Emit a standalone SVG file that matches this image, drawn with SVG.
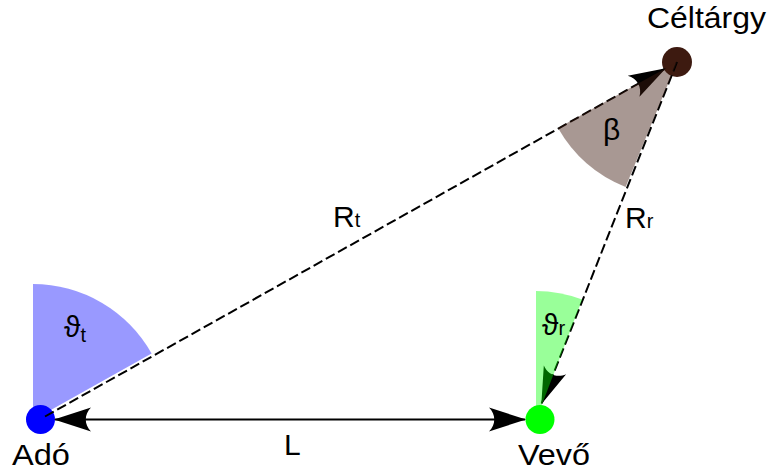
<svg xmlns="http://www.w3.org/2000/svg" width="769" height="472" viewBox="0 0 769 472">
<defs>
<style>
text{font-family:"Liberation Sans","DejaVu Sans",sans-serif;font-size:30px;fill:#000}
.sub{font-size:20px}
.conn{stroke:#000;stroke-width:2;fill:none}
.dash{stroke-dasharray:10 4}
</style>
<marker id="arr" viewBox="-40 -15 42 30" refX="0" refY="0" markerWidth="42" markerHeight="30" markerUnits="userSpaceOnUse" orient="auto-start-reverse">
<path d="M1,0 L-36,-12 C-29,-5 -29,5 -36,12 Z" fill="#000"/>
</marker>
</defs>
<rect width="769" height="472" fill="#fff"/>
<g id="node-ado"><circle cx="40.5" cy="419.5" r="14.5" fill="#0000ff"/><text x="12" y="465" textLength="58" lengthAdjust="spacingAndGlyphs">Adó</text></g>
<g id="node-vevo"><circle cx="540" cy="419.5" r="14.5" fill="#00ff00"/><text x="518" y="465" textLength="72" lengthAdjust="spacingAndGlyphs">Vevő</text></g>
<g id="node-celtargy"><circle cx="677" cy="62" r="15" fill="#3d1a10"/><text x="647" y="28" textLength="119" lengthAdjust="spacingAndGlyphs">Céltárgy</text></g>
<g id="connectors">
<line class="conn dash" x1="45" y1="416.5" x2="665" y2="68.7" marker-end="url(#arr)"/>
<line class="conn dash" x1="677" y1="62" x2="541.7" y2="403.3" marker-end="url(#arr)"/>
<line class="conn" x1="55" y1="419.5" x2="525" y2="419.5" marker-start="url(#arr)" marker-end="url(#arr)"/>
</g>
<g id="angles">
<path d="M33,420 L33,284 A136,136 0 0 1 151.6,353.5 Z" fill="#0000ff" fill-opacity="0.4"/>
<path d="M536,420 L536,291 A129,129 0 0 1 582.2,299.6 Z" fill="#00ff00" fill-opacity="0.4"/>
<path d="M677,62 L558,128 A136,136 0 0 0 625.6,187 Z" fill="#3d1a10" fill-opacity="0.45"/>
</g>
<g id="labels">
<text x="333" y="227">R<tspan class="sub">t</tspan></text>
<text x="625" y="228">R<tspan class="sub">r</tspan></text>
<text x="284" y="455">L</text>
<text x="603" y="140">β</text>
<text x="64" y="337">ϑ<tspan class="sub" dy="5">t</tspan></text>
<text x="542" y="335">ϑ<tspan class="sub">r</tspan></text>
</g>
</svg>
